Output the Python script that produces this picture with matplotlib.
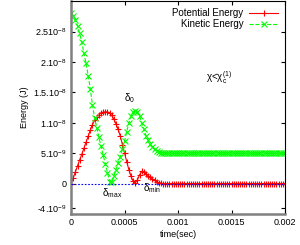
import numpy as np
import matplotlib
matplotlib.use('Agg')
import matplotlib.pyplot as plt

plt.rcParams['font.family'] = ['Liberation Sans', 'DejaVu Sans']
plt.rcParams['mathtext.default'] = 'regular'
plt.rcParams['font.size'] = 6.5

# time grid (sec), one sample every 2e-5 s
time = np.arange(101) * 2e-5

# energies, in units of 1e-9 J
kinetic = [28.0, 27.6, 26.9, 25.9, 24.7, 23.3, 21.4, 19.8, 17.7, 15.5,
           12.9, 10.8, 9.2, 7.6, 6.1, 4.7, 3.2, 1.8, 0.3, 0.2,
           1.2, 2.3, 3.3, 4.4, 5.7, 7.0, 8.5, 10.0, 11.1, 11.8,
           12.0, 11.8, 11.1, 10.0, 9.0, 7.9, 7.1, 6.5, 6.0, 5.6,
           5.35, 5.2, 5.1, 5.05] + [5.0] * 57
potential = [0.0, 0.9, 1.9, 2.9, 3.9, 4.8, 5.8, 6.8, 7.8, 8.8,
             9.7, 10.4, 10.9, 11.3, 11.6, 11.75, 11.8, 11.8, 11.6, 11.2,
             10.6, 9.8, 8.9, 7.8, 6.4, 5.0, 3.6, 2.3, 1.2, 0.4,
             0.1, 0.6, 1.4, 2.0, 1.9, 1.6, 1.3, 1.0, 0.7, 0.5,
             0.3, 0.15, 0.05, 0.0] + [0.0] * 57

xticks = [0, 0.0005, 0.001, 0.0015, 0.002]
xtick_labels = ['0', '0.0005', '0.001', '0.0015', '0.002']
yticks = [-4e-9, 0, 5e-9, 1e-8, 1.5e-8, 2e-8, 2.5e-8]
ytick_labels = [r'-4.10$^{-9}$', '0', r'5.10$^{-9}$', r'1.10$^{-8}$',
                r'1.5.10$^{-8}$', r'2.10$^{-8}$', r'2.510$^{-8}$']

kin = np.array(kinetic) * 1e-9
pot = np.array(potential) * 1e-9

fig = plt.figure(figsize=(3.0, 2.45), dpi=100)
ax = fig.add_axes([0.237, 0.127, 0.713, 0.868])

ax.plot(time, pot, color='red', lw=0.8, marker='+', ms=5, mew=0.8,
        label='Potential Energy')
ax.plot(time, kin, color='lime', lw=0.8, ls='--', marker='x', ms=4, mew=0.8,
        label='Kinetic Energy')
ax.axhline(0, color='blue', lw=0.8, ls=(0, (1.5, 1.5)), zorder=5)

ax.set_xlim(0, 0.002)
ax.set_ylim(-5e-9, 3e-8)
ax.set_xticks(xticks)
ax.set_xticklabels(xtick_labels)
ax.set_yticks(yticks)
ax.set_yticklabels(ytick_labels)
ax.tick_params(direction='in', length=3, width=0.8, top=True, right=True, pad=3)

for side in ['left', 'bottom']:
    ax.spines[side].set_color('gray')
    ax.spines[side].set_linewidth(1.8)
for side in ['top', 'right']:
    ax.spines[side].set_linewidth(0.8)

ax.set_xlabel('time(sec)', labelpad=2)
ax.set_ylabel('Energy (J)', labelpad=3)

ax.text(0.00055, 1.41e-8, r'$\delta_0$', ha='center', va='center', fontsize=7)
ax.text(0.000385, -1.5e-9, r'$\delta_{max}$', ha='center', va='center', fontsize=7)
ax.text(0.00067, -0.7e-9, r'$\delta_{min}$', ha='left', va='center', fontsize=7)
ax.text(0.00138, 1.75e-8, r'$\chi$<$\chi_c^{(1)}$', ha='center', va='center',
        fontsize=7)

ax.legend(loc='upper right', frameon=False, markerfirst=False, numpoints=1,
          handlelength=3, handletextpad=0.6, labelspacing=0.1,
          borderaxespad=0.3, fontsize=7)

fig.savefig('out.png', dpi=100)
